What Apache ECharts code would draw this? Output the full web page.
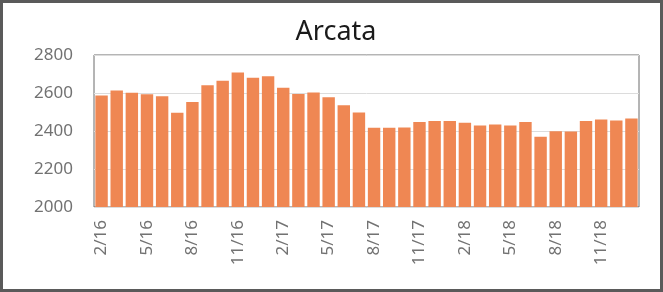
<!DOCTYPE html>
<html style="height: 100%">
<head>
<meta charset="utf-8">
<script src="https://cdn.jsdelivr.net/npm/echarts@6/dist/echarts.min.js"></script>
</head>
<body style="height: 100%; margin: 0; background: #fff;">
<div id="container" style="width: 663px; height: 292px; box-sizing: border-box; border: 3px solid #5a5a5a;"></div>
<script type="text/javascript">
var months = ['2/16','3/16','4/16','5/16','6/16','7/16','8/16','9/16','10/16','11/16','12/16','1/17',
              '2/17','3/17','4/17','5/17','6/17','7/17','8/17','9/17','10/17','11/17','12/17','1/18',
              '2/18','3/18','4/18','5/18','6/18','7/18','8/18','9/18','10/18','11/18','12/18','1/19'];
var values = [2587, 2613, 2601, 2594, 2583, 2496, 2552, 2641, 2665, 2708, 2680, 2688,
              2627, 2595, 2602, 2578, 2536, 2497, 2417, 2417, 2419, 2447, 2452, 2452,
              2443, 2429, 2434, 2429, 2447, 2370, 2399, 2398, 2452, 2461, 2455, 2466];
var yTicks = {min: 2000, max: 2800, step: 200};

var myChart = echarts.init(document.getElementById('container'));
var option = {
    animation: false,
    title: {
        text: 'Arcata',
        left: 328,
        top: 11,
        textAlign: 'center',
        textStyle: {fontFamily: 'Noto Sans', fontSize: 27, fontWeight: 'normal', color: '#1a1a1a'}
    },
    grid: {
        left: 91, right: 21, top: 52, bottom: 82,
        show: true, borderColor: '#6a6a6a', borderWidth: 1, backgroundColor: 'transparent'
    },
    xAxis: {
        type: 'category',
        data: months,
        axisLine: {show: false},
        axisTick: {show: false},
        axisLabel: {
            interval: 2, rotate: 90, margin: 13,
            fontFamily: 'Noto Sans', fontSize: 17, color: '#727272'
        }
    },
    yAxis: {
        type: 'value',
        min: yTicks.min, max: yTicks.max, interval: yTicks.step,
        axisLine: {show: false},
        axisTick: {show: false},
        splitLine: {lineStyle: {color: '#dcdcdc'}},
        axisLabel: {
            fontFamily: 'Noto Sans', fontSize: 17, color: '#727272', margin: 21,
            formatter: function (v) { return String(v); }
        }
    },
    series: [{
        type: 'bar',
        data: values,
        barCategoryGap: '18%',
        itemStyle: {color: '#ef8753'}
    }]
};
myChart.setOption(option, true);
</script>
</body>
</html>
